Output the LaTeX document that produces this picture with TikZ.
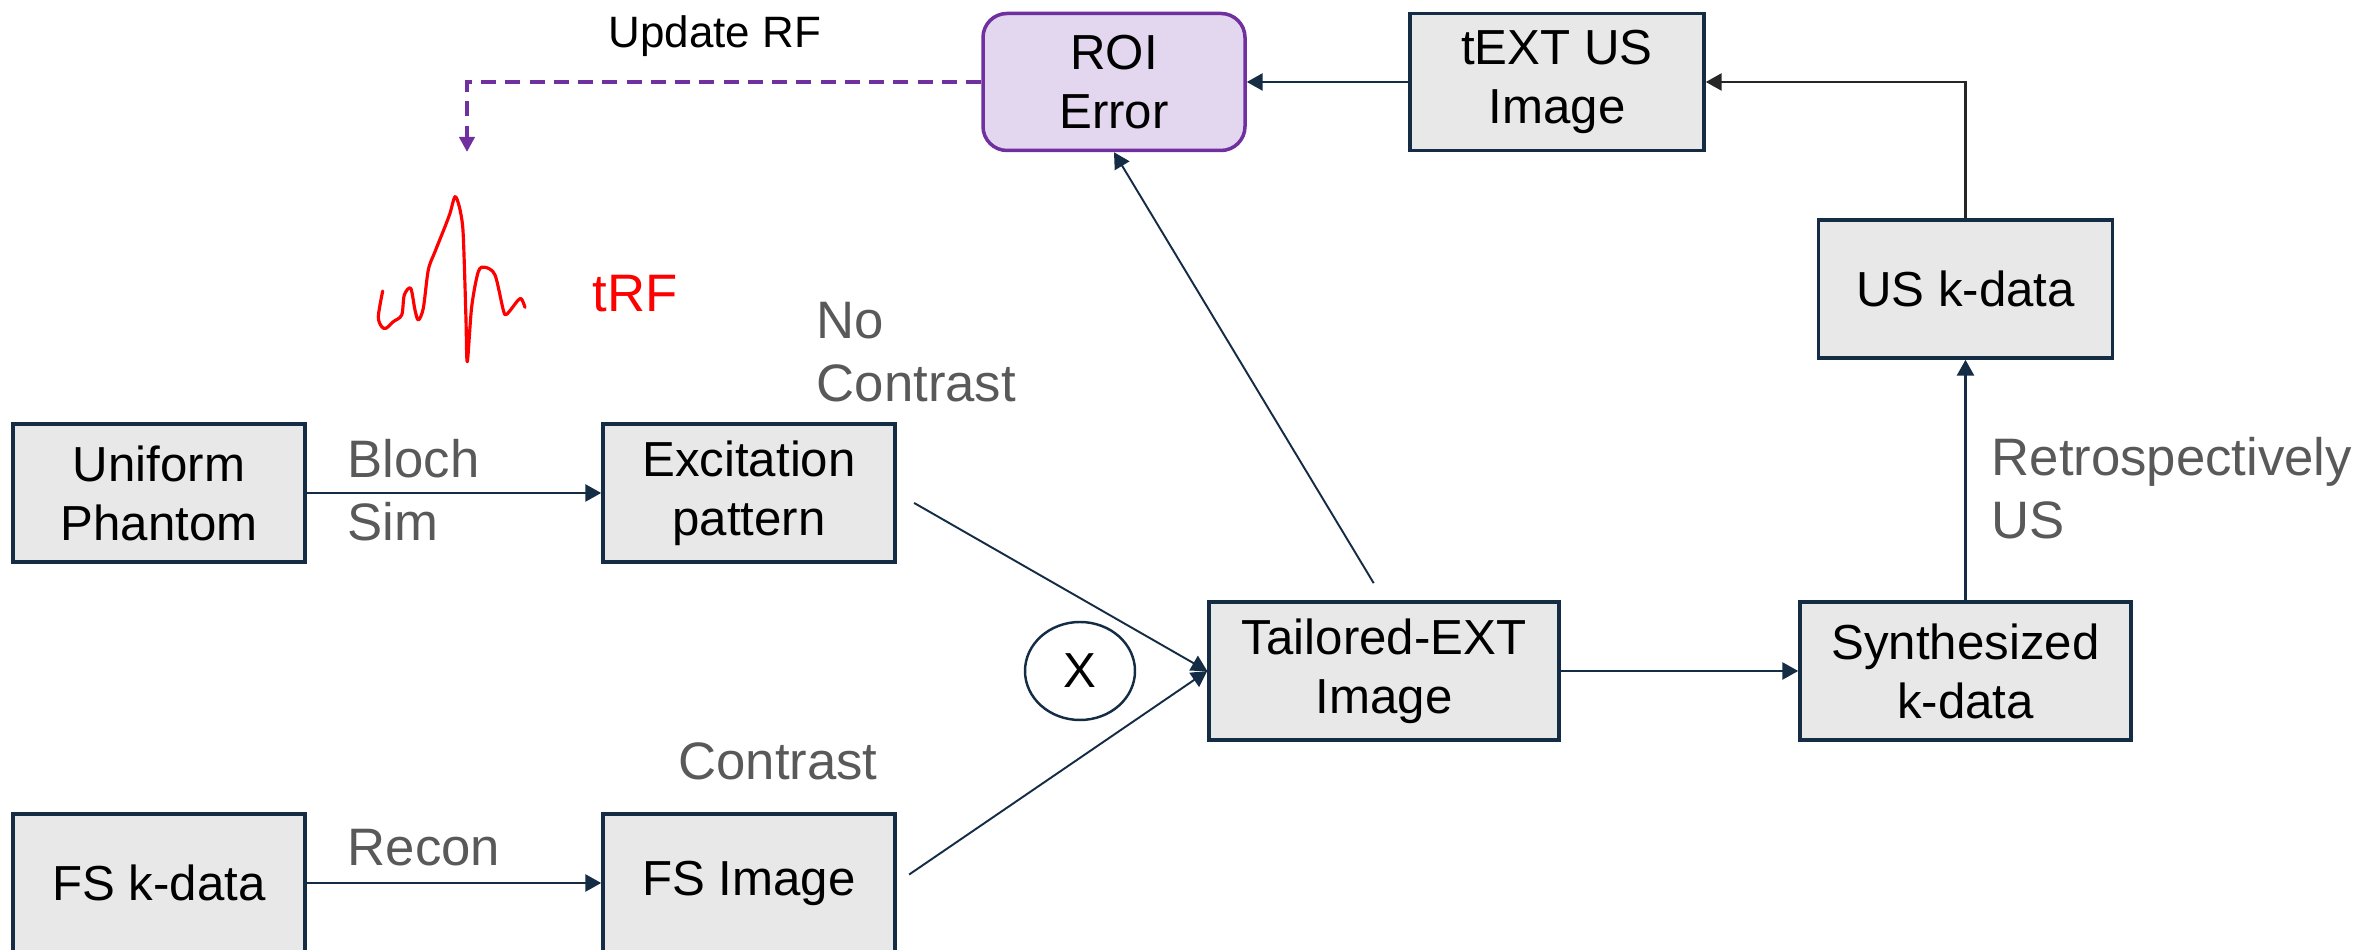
\documentclass[tikz,border=0pt]{standalone}
\usepackage{fontspec}
\setmainfont{Liberation Sans}
\usepackage{tikz}
\usetikzlibrary{arrows.meta}
\usetikzlibrary{shapes.geometric}
\definecolor{navy}{HTML}{152C45}
\definecolor{boxgray}{HTML}{E8E8E8}
\definecolor{labelgray}{HTML}{595959}
\definecolor{roipurple}{HTML}{7030A0}
\definecolor{roifill}{HTML}{E3D7F0}
\tikzset{box/.style = {draw=navy, line width=1pt, fill=boxgray,
                       minimum height=1.38cm, inner sep=0pt, align=center,
                       font=\fontsize{14}{16.8}\selectfont},
         lbl/.style = {text=labelgray, align=left, inner sep=0pt,
                       font=\fontsize{15}{18}\selectfont},
         flow/.style = {draw=navy, line width=0.75pt,
                        -{Triangle[length=4.5pt, width=4.8pt]}},
         slant/.style = {flow, line width=0.55pt},
         update/.style = {draw=roipurple, line width=1.1pt,
                          dash pattern=on 4.3pt off 2.6pt,
                          -{Triangle[length=4.3pt, width=4.3pt]}}}

\begin{document}
\begin{tikzpicture}
  \useasboundingbox (0, 0) rectangle (23.66, 9.5);
  % boxes
  \node [box, minimum width=2.92cm] (phantom) at (1.59, 4.57) {Uniform\\Phantom};
  \node [box, minimum width=2.92cm] (excite) at (7.49, 4.57) {Excitation\\pattern};
  \node [box, minimum width=2.92cm] (fskdata) at (1.59, 0.67) {FS k-data};
  \node [box, minimum width=2.92cm] (fsimage) at (7.49, 0.67) {FS Image};
  \node [box, minimum width=3.50cm] (tailored) at (13.84, 2.79) {Tailored-EXT\\Image};
  \node [box, minimum width=3.31cm] (synth) at (19.655, 2.79) {Synthesized\\k-data};
  \node [box, minimum width=2.94cm] (uskdata) at (19.655, 6.61) {US k-data};
  \node [box, minimum width=2.94cm, minimum height=1.37cm] (textus) at (15.57, 8.68) {tEXT US\\Image};
  \node [box, draw=roipurple, fill=roifill, rounded corners=0.24cm,
         minimum width=2.62cm, minimum height=1.37cm] (roi) at (11.14, 8.68) {ROI\\Error};
  \node [ellipse, draw=navy, line width=0.7pt, minimum width=1.10cm,
         minimum height=0.98cm, inner sep=0pt,
         font=\fontsize{14}{16.8}\selectfont] (mult) at (10.80, 2.79) {X};

  % labels
  \node [lbl, anchor=west] (bloch) at (3.47, 4.595) {Bloch\\Sim};
  \node [lbl, anchor=west] (recon) at (3.47, 1.02) {Recon};
  \node [lbl, anchor=west] (nocontrast) at (8.16, 5.98) {No\\Contrast};
  \node [lbl] (contrast) at (7.78, 1.89) {Contrast};
  \node [lbl, anchor=west] (retro) at (19.91, 4.615) {Retrospectively\\US};
  \node [inner sep=0pt, font=\fontsize{12.5}{15}\selectfont] (updaterf) at (7.15, 9.14) {Update RF};
  \node [inner sep=0pt, text=red, font=\fontsize{15}{18}\selectfont] (trf) at (6.35, 6.567) {tRF};

  % tailored RF pulse
  \draw [red, line width=0.9pt, line cap=round, line join=round]
    plot [smooth, tension=0.5] coordinates {(3.827, 6.59) (3.783, 6.333)
      (3.817, 6.233) (3.86, 6.217) (3.933, 6.283) (4.017, 6.35) (4.043, 6.55)
      (4.107, 6.617) (4.15, 6.40) (4.183, 6.30) (4.233, 6.417) (4.283, 6.80)
      (4.35, 6.983) (4.45, 7.233) (4.50, 7.367) (4.55, 7.533) (4.593, 7.433)
      (4.627, 7.233) (4.643, 6.867) (4.66, 6.30) (4.673, 5.883) (4.717, 6.433)
      (4.783, 6.783) (4.85, 6.827) (4.95, 6.75) (5.033, 6.40) (5.067, 6.357)
      (5.183, 6.50) (5.217, 6.507) (5.25, 6.427)};

  % connectors
  \draw [flow] (phantom) -- (excite);
  \draw [flow] (fskdata) -- (fsimage);
  \draw [slant, shorten <=0.2cm] (excite.east) -- (tailored.west);
  \draw [slant, shorten <=0.15cm] (fsimage.east) -- (tailored.west);
  \draw [slant, shorten <=0.2cm] (tailored.north) -- (roi.south);
  \draw [flow] (tailored) -- (synth);
  \draw [flow] (synth) -- (uskdata);
  \draw [flow, draw=black!85] (uskdata.north) |- (textus.east);
  \draw [flow] (textus) -- (roi);
  \coordinate (rfend) at (4.67, 7.98);
  \draw [update] (roi.west) -| (rfend);
\end{tikzpicture}
\end{document}
